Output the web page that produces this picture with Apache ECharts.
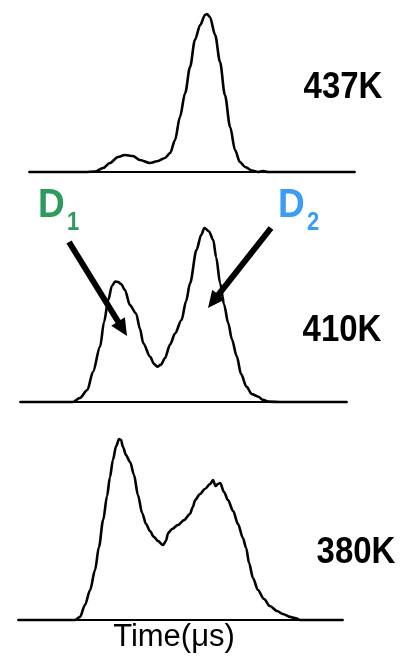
<!DOCTYPE html>
<html>
<head>
<meta charset="utf-8">
<script src="https://cdn.jsdelivr.net/npm/echarts@6/dist/echarts.min.js"></script>
<style>html,body{margin:0;padding:0;background:#fff}#c{width:403px;height:661px}</style>
</head>
<body>
<div id="c"></div>
<script>
// Panel labels (temperatures)
const panelLabels = ['437K', '410K', '380K'];
const axisTitle = 'Time(\u03bcs)';
const peakLabels = ['D', 'D'];
const peakSubs = ['1', '2'];

// 437K trace: time (arb. units 0-100) and normalized intensity
const time437 = [0, 17.2, 20.2, 22.7, 24.8, 27.3, 29.4, 31.9, 34.0, 37.1, 39.6, 41.7, 43.3, 44.8, 46.3, 47.9, 49.4, 50.9, 52.5, 54.0, 54.6, 55.5, 57.1, 58.6, 60.1, 61.7, 63.2, 64.7, 66.3, 68.4, 70.2, 71.8, 73.3, 100];
const int437  = [0, 0, 0.003, 0.025, 0.057, 0.095, 0.108, 0.101, 0.076, 0.057, 0.070, 0.089, 0.120, 0.203, 0.348, 0.500, 0.665, 0.835, 0.930, 0.994, 1.0, 0.981, 0.867, 0.696, 0.487, 0.285, 0.139, 0.063, 0.032, 0.009, 0, 0.006, 0, 0];

// 410K trace
const time410 = [0, 16.2, 18.3, 20.6, 22.3, 24.5, 25.7, 27.0, 28.1, 29.1, 30.0, 30.9, 32.1, 33.6, 35.5, 36.7, 37.7, 39.8, 41.0, 42.0, 43.1, 44.3, 45.9, 47.4, 49.4, 50.8, 52.0, 54.0, 55.4, 56.4, 57.8, 59.1, 60.0, 61.2, 62.4, 63.7, 64.8, 66.3, 67.6, 69.3, 70.9, 72.9, 74.3, 75.9, 80.4, 100];
const int410  = [0, 0, 0.023, 0.069, 0.172, 0.318, 0.460, 0.586, 0.667, 0.692, 0.690, 0.678, 0.644, 0.557, 0.509, 0.420, 0.337, 0.260, 0.218, 0.203, 0.215, 0.251, 0.330, 0.394, 0.471, 0.580, 0.682, 0.875, 0.960, 1.0, 0.98, 0.931, 0.83, 0.682, 0.56, 0.452, 0.36, 0.262, 0.16, 0.087, 0.045, 0.03, 0.012, 0.002, 0, 0];

// 380K trace
const time380 = [0, 17.5, 19.1, 20.6, 22.2, 23.7, 24.9, 26.2, 27.4, 28.3, 29.2, 30.2, 31.1, 31.7, 32.3, 33.2, 34.5, 35.7, 36.9, 38.2, 39.4, 40.6, 41.8, 43.1, 44.6, 45.5, 46.2, 47.4, 49.2, 51.1, 52.9, 53.8, 54.5, 56.0, 57.5, 59.1, 60.0, 60.8, 61.5, 62.2, 63.4, 64.6, 66.2, 67.7, 69.2, 70.2, 71.1, 72.3, 73.8, 75.7, 77.5, 79.7, 81.5, 83.7, 85.2, 86.8, 100];
const int380  = [0, 0, 0.017, 0.083, 0.166, 0.276, 0.403, 0.552, 0.685, 0.790, 0.884, 0.961, 1.0, 0.994, 0.956, 0.912, 0.873, 0.801, 0.691, 0.591, 0.530, 0.492, 0.459, 0.436, 0.414, 0.436, 0.481, 0.503, 0.525, 0.552, 0.586, 0.624, 0.663, 0.696, 0.724, 0.751, 0.773, 0.740, 0.751, 0.757, 0.707, 0.663, 0.602, 0.530, 0.453, 0.398, 0.315, 0.232, 0.166, 0.116, 0.077, 0.050, 0.033, 0.017, 0.011, 0, 0];

const traces = [[time437, int437], [time410, int410], [time380, int380]];
const grids = [
  {left: 29, width: 326, top: 14, height: 158},
  {left: 20, width: 327, top: 228, height: 174},
  {left: 18, width: 325, top: 439, height: 181}
];

const chart = echarts.init(document.getElementById('c'), null, {renderer: 'canvas'});
const FONT = '"Liberation Sans", Arial, Helvetica, sans-serif';

function arrow(x1, y1, x2, y2) {
  const dx = x2 - x1, dy = y2 - y1, L = Math.hypot(dx, dy);
  const ux = dx / L, uy = dy / L, hl = 17, hw = 8;
  const bx = x2 - ux * hl, by = y2 - uy * hl;
  const px = -uy * hw, py = ux * hw;
  return [
    {type: 'line', shape: {x1: x1, y1: y1, x2: bx + ux * 2, y2: by + uy * 2}, style: {stroke: '#000', lineWidth: 6}},
    {type: 'polygon', shape: {points: [[x2, y2], [bx + px, by + py], [bx - px, by - py]]}, style: {fill: '#000'}}
  ];
}

function txt(x, y, text, font, fill, align, sy) {
  return {type: 'text', x: x, y: y, scaleY: sy || 1,
    style: {text: text, font: font, fill: fill, align: align, verticalAlign: 'middle'}};
}

const graphics = [];
const labelPos = [[343, 88], [342, 331], [356, 553]];
panelLabels.forEach((t, i) => graphics.push(txt(labelPos[i][0], labelPos[i][1], t, 'bold 33px ' + FONT, '#000', 'center', 1.1)));
graphics.push(txt(174, 637, axisTitle, '31px ' + FONT, '#000', 'center', 1));
graphics.push(txt(38, 206, peakLabels[0], 'bold 37px ' + FONT, '#2e9a5e', 'left', 1.12));
graphics.push(txt(67, 223, peakSubs[0], 'bold 22px ' + FONT, '#2e9a5e', 'left', 1.2));
graphics.push(txt(278, 206, peakLabels[1], 'bold 37px ' + FONT, '#3a9cf5', 'left', 1.12));
graphics.push(txt(307, 223, peakSubs[1], 'bold 22px ' + FONT, '#3a9cf5', 'left', 1.2));
graphics.push(...arrow(69, 242, 127, 336));
graphics.push(...arrow(271, 228, 208, 308));

const option = {
  animation: false,
  backgroundColor: '#fff',
  grid: grids,
  xAxis: grids.map((g, i) => ({
    type: 'value', gridIndex: i, min: 0, max: 100,
    axisLine: {show: true, lineStyle: {color: '#000', width: 2}},
    axisTick: {show: false}, axisLabel: {show: false}, splitLine: {show: false}
  })),
  yAxis: grids.map((g, i) => ({
    type: 'value', gridIndex: i, min: 0, max: 1, show: false, splitLine: {show: false}
  })),
  series: traces.map((tr, i) => ({
    type: 'line', xAxisIndex: i, yAxisIndex: i, clip: false,
    data: tr[0].map((t, k) => [t, tr[1][k]]),
    showSymbol: false, smooth: 0.3, smoothMonotone: 'x',
    lineStyle: {color: '#000', width: 2.6}
  })),
  graphic: graphics
};
chart.setOption(option);
</script>
</body>
</html>
